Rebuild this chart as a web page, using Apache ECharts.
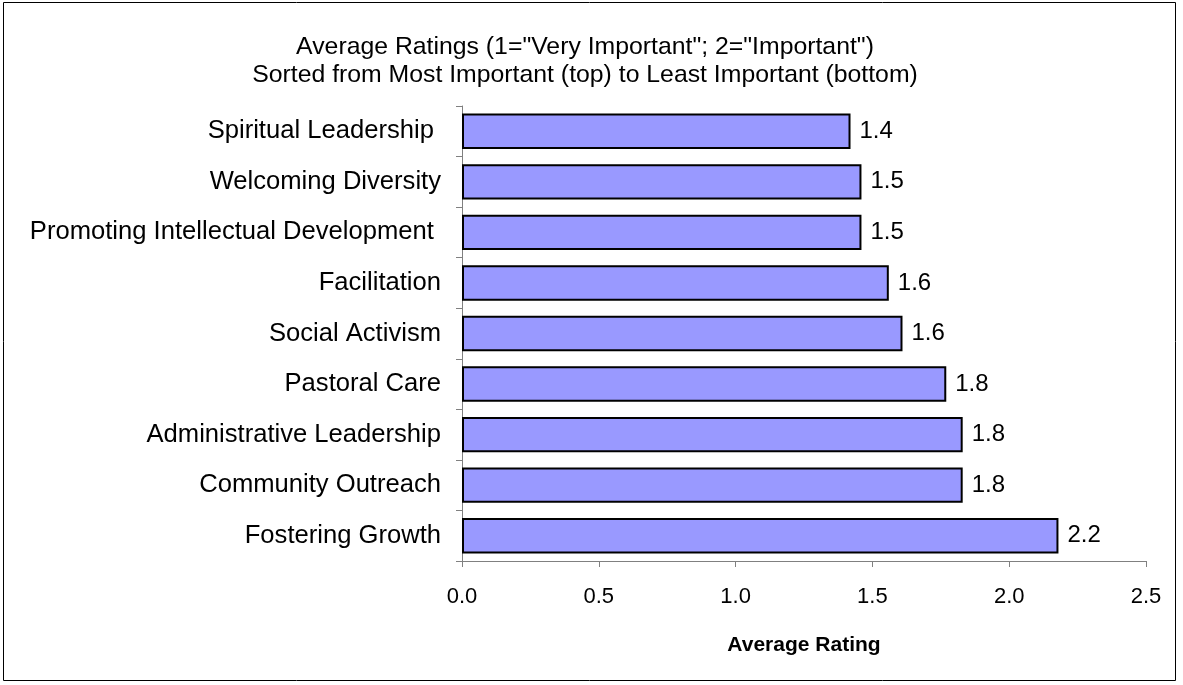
<!DOCTYPE html>
<html>
<head>
<meta charset="utf-8">
<script src="https://cdn.jsdelivr.net/npm/echarts@6/dist/echarts.min.js"></script>
<style>
  html, body { margin: 0; padding: 0; background: #fff; }
  #main { width: 1183px; height: 685px; }
</style>
</head>
<body>
<div id="main"></div>
<script>
var chart = echarts.init(document.getElementById("main"))

// categories, top to bottom
var categories = [
  "Spiritual Leadership ",
  "Welcoming Diversity",
  "Promoting Intellectual Development ",
  "Facilitation",
  "Social Activism",
  "Pastoral Care",
  "Administrative Leadership",
  "Community Outreach",
  "Fostering Growth"
]
var ratings = [1.42, 1.46, 1.46, 1.56, 1.61, 1.77, 1.83, 1.83, 2.18]
var titleLines = [
  'Average Ratings (1="Very Important"; 2="Important")',
  'Sorted from Most Important (top) to Least Important (bottom)'
]

var font = "Liberation Sans, Arial, sans-serif"

option = {
  animation: false,
  backgroundColor: "#fff",
  textStyle: { fontFamily: font },
  title: {
    text: titleLines.join("\n"),
    left: 580,
    textAlign: 'center',
    top: 28,
    textStyle: {
      fontFamily: font,
      fontWeight: 'normal',
      fontSize: 24.8,
      lineHeight: 28,
      color: "#000"
    }
  },
  graphic: [
    {
      type: 'rect',
      shape: { x: 3.5, y: 2.5, width: 1172, height: 678 },
      style: { fill: null, stroke: "#000", lineWidth: 1 }
    }
  ],
  grid: {
    left: 462,
    right: 37,
    top: 106,
    bottom: 124
  },
  xAxis: {
    type: 'value',
    min: 0,
    max: 2.5,
    interval: 0.5,
    name: "Average Rating",
    nameLocation: 'middle',
    nameGap: 74,
    nameTextStyle: {
      fontFamily: font,
      fontWeight: 'bold',
      fontSize: 21,
      color: "#000"
    },
    axisLine: { show: true, lineStyle: { color: "#808080", width: 1 } },
    axisTick: { show: true, length: 6, lineStyle: { color: "#808080" } },
    splitLine: { show: false },
    axisLabel: {
      margin: 25,
      fontSize: 22,
      color: "#000",
      formatter: function (v) { return v.toFixed(1) }
    }
  },
  yAxis: {
    type: 'category',
    data: categories,
    inverse: true,
    axisLine: { show: true, lineStyle: { color: "#808080", width: 1 } },
    axisTick: { show: true, length: 6, lineStyle: { color: "#808080" } },
    axisLabel: {
      margin: 21,
      fontSize: 25.6,
      color: "#000"
    }
  },
  series: [
    {
      name: "Average Rating",
      type: "bar",
      data: ratings,
      barCategoryGap: '30%',
      itemStyle: {
        color: "#9999ff",
        borderColor: "#000",
        borderWidth: 2
      },
      label: {
        show: true,
        position: 'right',
        distance: 9,
        fontSize: 24,
        color: "#000",
        formatter: function (p) { return p.value.toFixed(1) }
      }
    }
  ]
}

chart.setOption(option)
</script>
</body>
</html>
